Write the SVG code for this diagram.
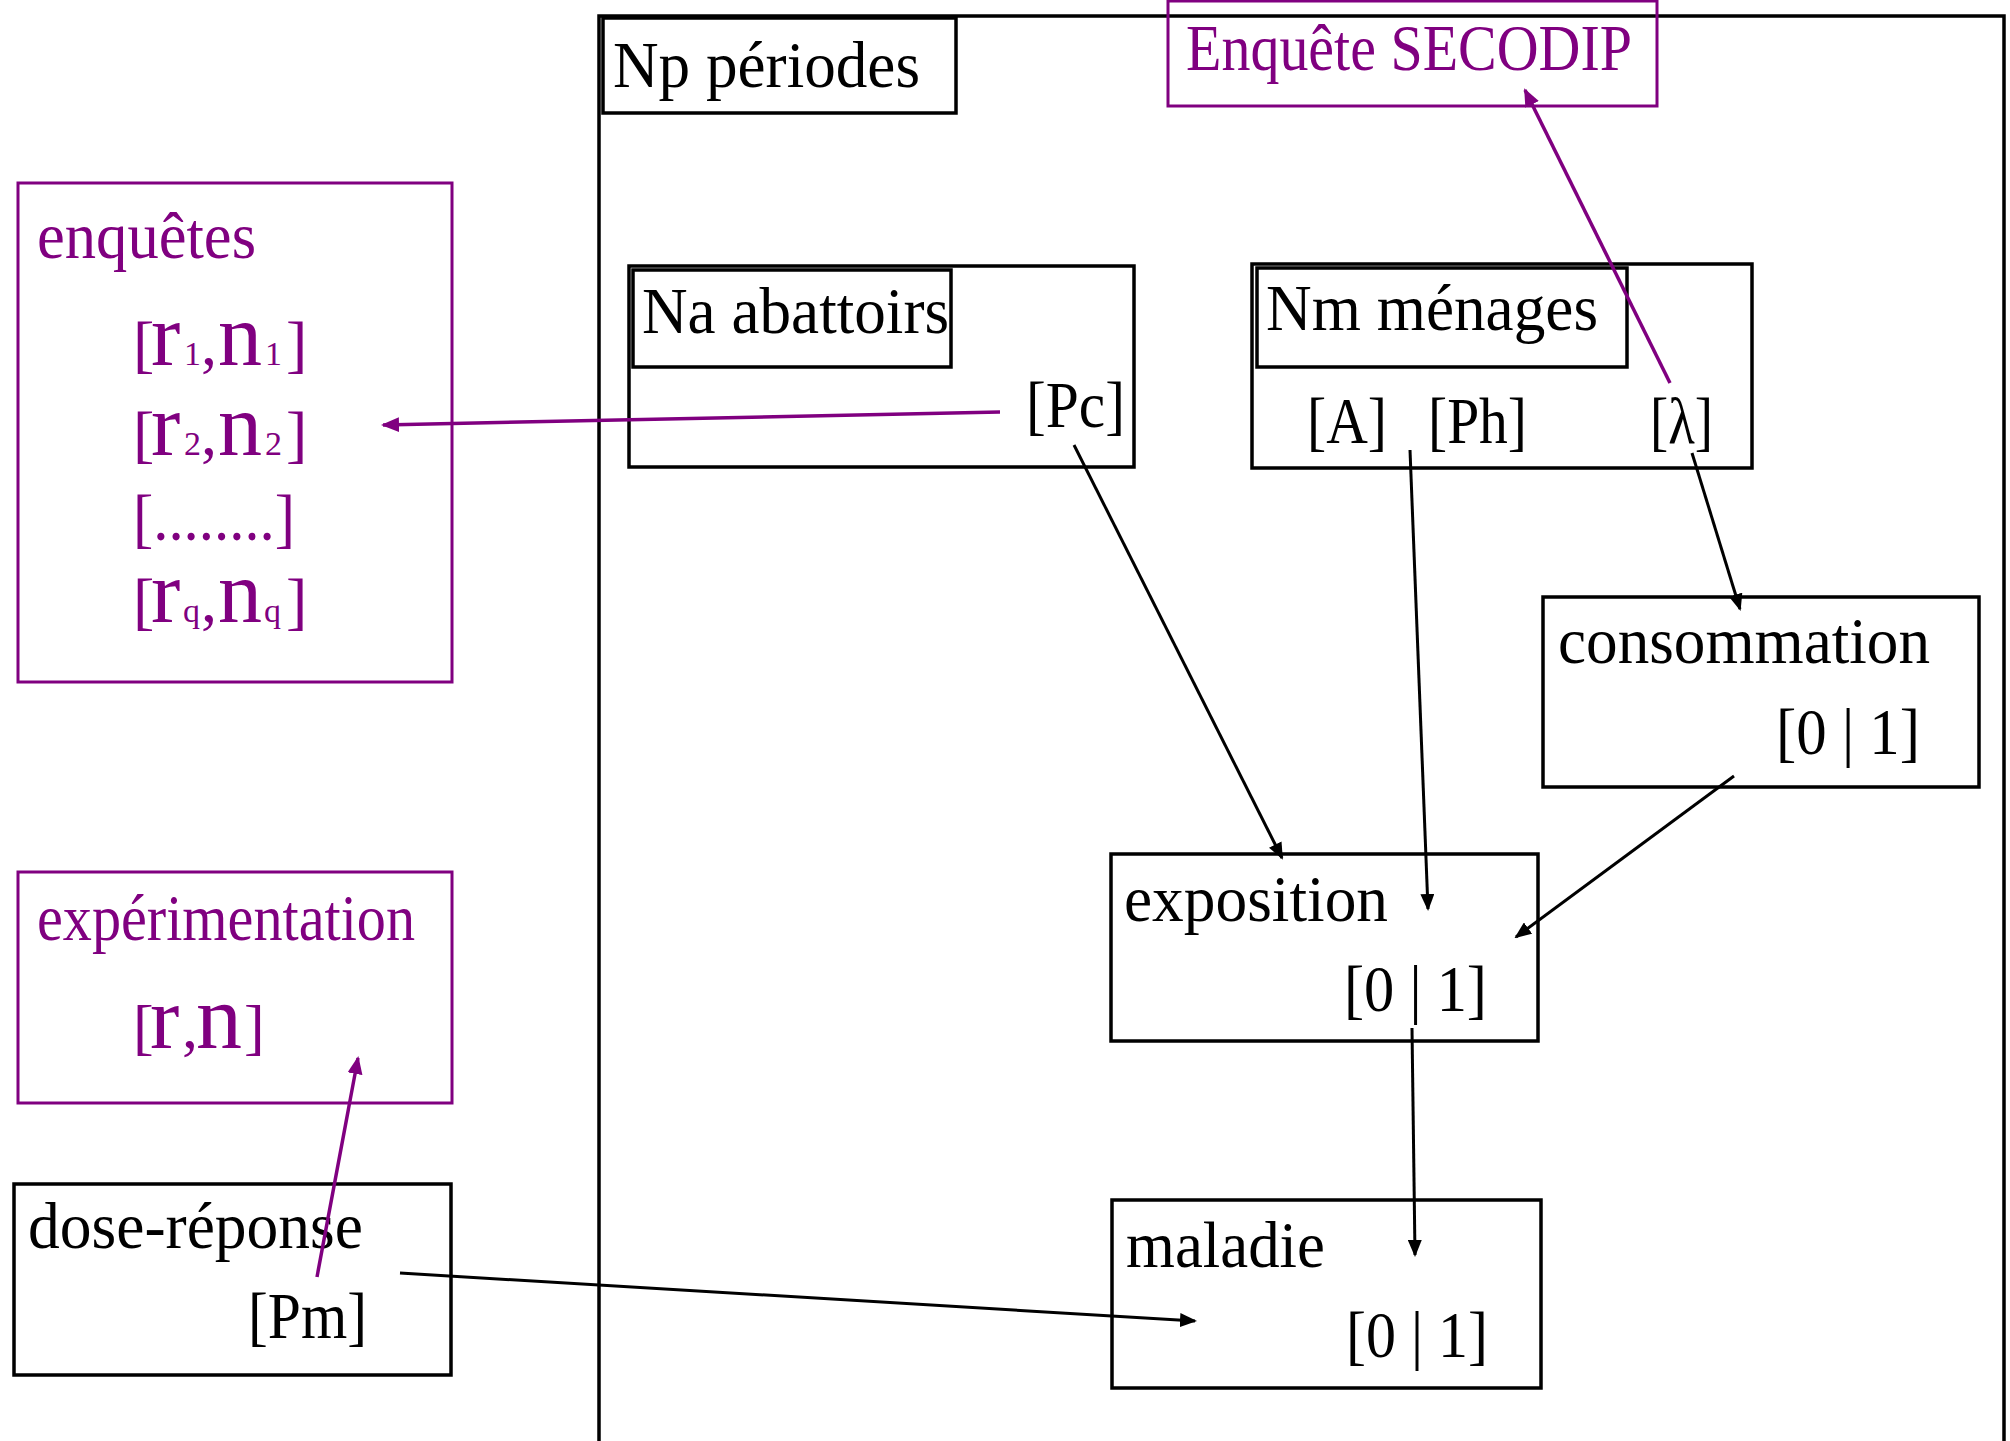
<svg xmlns="http://www.w3.org/2000/svg" width="2010" height="1441" viewBox="0 0 2010 1441">
  <style>
    .box { fill: none; stroke: #000; stroke-width: 3.5; }
    .pbox { fill: none; stroke: #800080; stroke-width: 3; }
    .t { font-family: "Liberation Serif", "Times New Roman", serif; font-size: 66px; fill: #000; }
    .p { fill: #800080; }
    .ln { fill: none; stroke: #000; stroke-width: 3; }
    .pln { fill: none; stroke: #800080; stroke-width: 3.5; }
  </style>
  <defs>
    <marker id="ah" markerWidth="17" markerHeight="14" refX="15" refY="7" orient="auto" markerUnits="userSpaceOnUse">
      <path d="M0,0 L17,7 L0,14 z" fill="#000"/>
    </marker>
    <marker id="ahp" markerWidth="18" markerHeight="15" refX="16" refY="7.5" orient="auto" markerUnits="userSpaceOnUse">
      <path d="M0,0 L18,7.5 L0,15 z" fill="#800080"/>
    </marker>
  </defs>
  <rect width="2010" height="1441" fill="#fff"/>

  <!-- periods plate (open at the bottom) -->
  <g id="plate-periodes">
    <path class="box" d="M599,1441 V16 H2004 V1441"/>
    <rect class="box" x="603" y="18" width="353" height="95"/>
    <text class="t" x="613" y="87" textLength="307" lengthAdjust="spacingAndGlyphs">Np périodes</text>
  </g>

  <g id="secodip">
    <rect class="pbox" x="1168" y="1" width="489" height="105"/>
    <text class="t p" x="1186" y="70" font-size="58" textLength="446" lengthAdjust="spacingAndGlyphs">Enquête SECODIP</text>
  </g>

  <g id="enquetes">
    <rect class="pbox" x="18" y="183" width="434" height="499"/>
    <text class="t p" x="37" y="258" textLength="219" lengthAdjust="spacingAndGlyphs">enquêtes</text>
    <text class="t p" y="365"><tspan x="133" font-size="64">[</tspan><tspan x="151" font-size="88">r</tspan><tspan x="184" font-size="34">1</tspan><tspan x="201" font-size="64">,</tspan><tspan x="218" font-size="88">n</tspan><tspan x="265" font-size="34">1</tspan><tspan x="286" font-size="64">]</tspan></text>
    <text class="t p" y="455"><tspan x="133" font-size="64">[</tspan><tspan x="151" font-size="88">r</tspan><tspan x="184" font-size="34">2</tspan><tspan x="201" font-size="64">,</tspan><tspan x="218" font-size="88">n</tspan><tspan x="265" font-size="34">2</tspan><tspan x="286" font-size="64">]</tspan></text>
    <text class="t p" x="133" y="540" font-size="64" textLength="162" lengthAdjust="spacingAndGlyphs">[........]</text>
    <text class="t p" y="622"><tspan x="133" font-size="64">[</tspan><tspan x="151" font-size="88">r</tspan><tspan x="183" font-size="34">q</tspan><tspan x="201" font-size="64">,</tspan><tspan x="218" font-size="88">n</tspan><tspan x="264" font-size="34">q</tspan><tspan x="286" font-size="64">]</tspan></text>
  </g>

  <g id="experimentation">
    <rect class="pbox" x="18" y="872" width="434" height="231"/>
    <text class="t p" x="37" y="940" font-size="61" textLength="378" lengthAdjust="spacingAndGlyphs">expérimentation</text>
    <text class="t p" y="1048"><tspan x="133" font-size="62">[</tspan><tspan x="150" font-size="88">r</tspan><tspan x="182" font-size="64">,</tspan><tspan x="196" font-size="92">n</tspan><tspan x="244" font-size="62">]</tspan></text>
  </g>

  <g id="dose-reponse">
    <rect class="box" x="14" y="1184" width="437" height="191"/>
    <text class="t" x="28" y="1248" textLength="335" lengthAdjust="spacingAndGlyphs">dose-réponse</text>
    <text class="t" x="248" y="1338" textLength="119" lengthAdjust="spacingAndGlyphs">[Pm]</text>
  </g>

  <g id="abattoirs">
    <rect class="box" x="629" y="266" width="505" height="201"/>
    <rect class="box" x="633" y="270" width="318" height="97"/>
    <text class="t" x="642" y="333" textLength="307" lengthAdjust="spacingAndGlyphs">Na abattoirs</text>
    <text class="t" x="1026" y="427" textLength="99" lengthAdjust="spacingAndGlyphs">[Pc]</text>
  </g>

  <g id="menages">
    <rect class="box" x="1252" y="264" width="500" height="204"/>
    <rect class="box" x="1257" y="268" width="370" height="99"/>
    <text class="t" x="1266" y="330" textLength="332" lengthAdjust="spacingAndGlyphs">Nm ménages</text>
    <text class="t" x="1307" y="443" textLength="80" lengthAdjust="spacingAndGlyphs">[A]</text>
    <text class="t" x="1428" y="443" textLength="99" lengthAdjust="spacingAndGlyphs">[Ph]</text>
    <text class="t" x="1650" y="443" textLength="63" lengthAdjust="spacingAndGlyphs">[λ]</text>
  </g>

  <g id="consommation">
    <rect class="box" x="1543" y="597" width="436" height="190"/>
    <text class="t" x="1558" y="663" textLength="372" lengthAdjust="spacingAndGlyphs">consommation</text>
    <text class="t" x="1776" y="754" textLength="144" lengthAdjust="spacingAndGlyphs">[0 | 1]</text>
  </g>

  <g id="exposition">
    <rect class="box" x="1111" y="854" width="427" height="187"/>
    <text class="t" x="1124" y="921" textLength="264" lengthAdjust="spacingAndGlyphs">exposition</text>
    <text class="t" x="1344" y="1011" textLength="143" lengthAdjust="spacingAndGlyphs">[0 | 1]</text>
  </g>

  <g id="maladie">
    <rect class="box" x="1112" y="1200" width="429" height="188"/>
    <text class="t" x="1126" y="1267" textLength="199" lengthAdjust="spacingAndGlyphs">maladie</text>
    <text class="t" x="1346" y="1357" textLength="142" lengthAdjust="spacingAndGlyphs">[0 | 1]</text>
  </g>

  <g id="connectors">
    <line class="ln" x1="1074" y1="445" x2="1282" y2="858" marker-end="url(#ah)"/>
    <line class="ln" x1="1410" y1="450" x2="1428" y2="909" marker-end="url(#ah)"/>
    <line class="ln" x1="1692" y1="453" x2="1740" y2="609" marker-end="url(#ah)"/>
    <line class="ln" x1="1734" y1="776" x2="1516" y2="937" marker-end="url(#ah)"/>
    <line class="ln" x1="1412" y1="1028" x2="1415" y2="1255" marker-end="url(#ah)"/>
    <line class="ln" x1="400" y1="1273" x2="1195" y2="1321" marker-end="url(#ah)"/>
    <line class="pln" x1="1000" y1="412" x2="383" y2="425" marker-end="url(#ahp)"/>
    <line class="pln" x1="1670" y1="383" x2="1525" y2="90" marker-end="url(#ahp)"/>
    <line class="pln" x1="317" y1="1277" x2="358" y2="1058" marker-end="url(#ahp)"/>
  </g>
</svg>
